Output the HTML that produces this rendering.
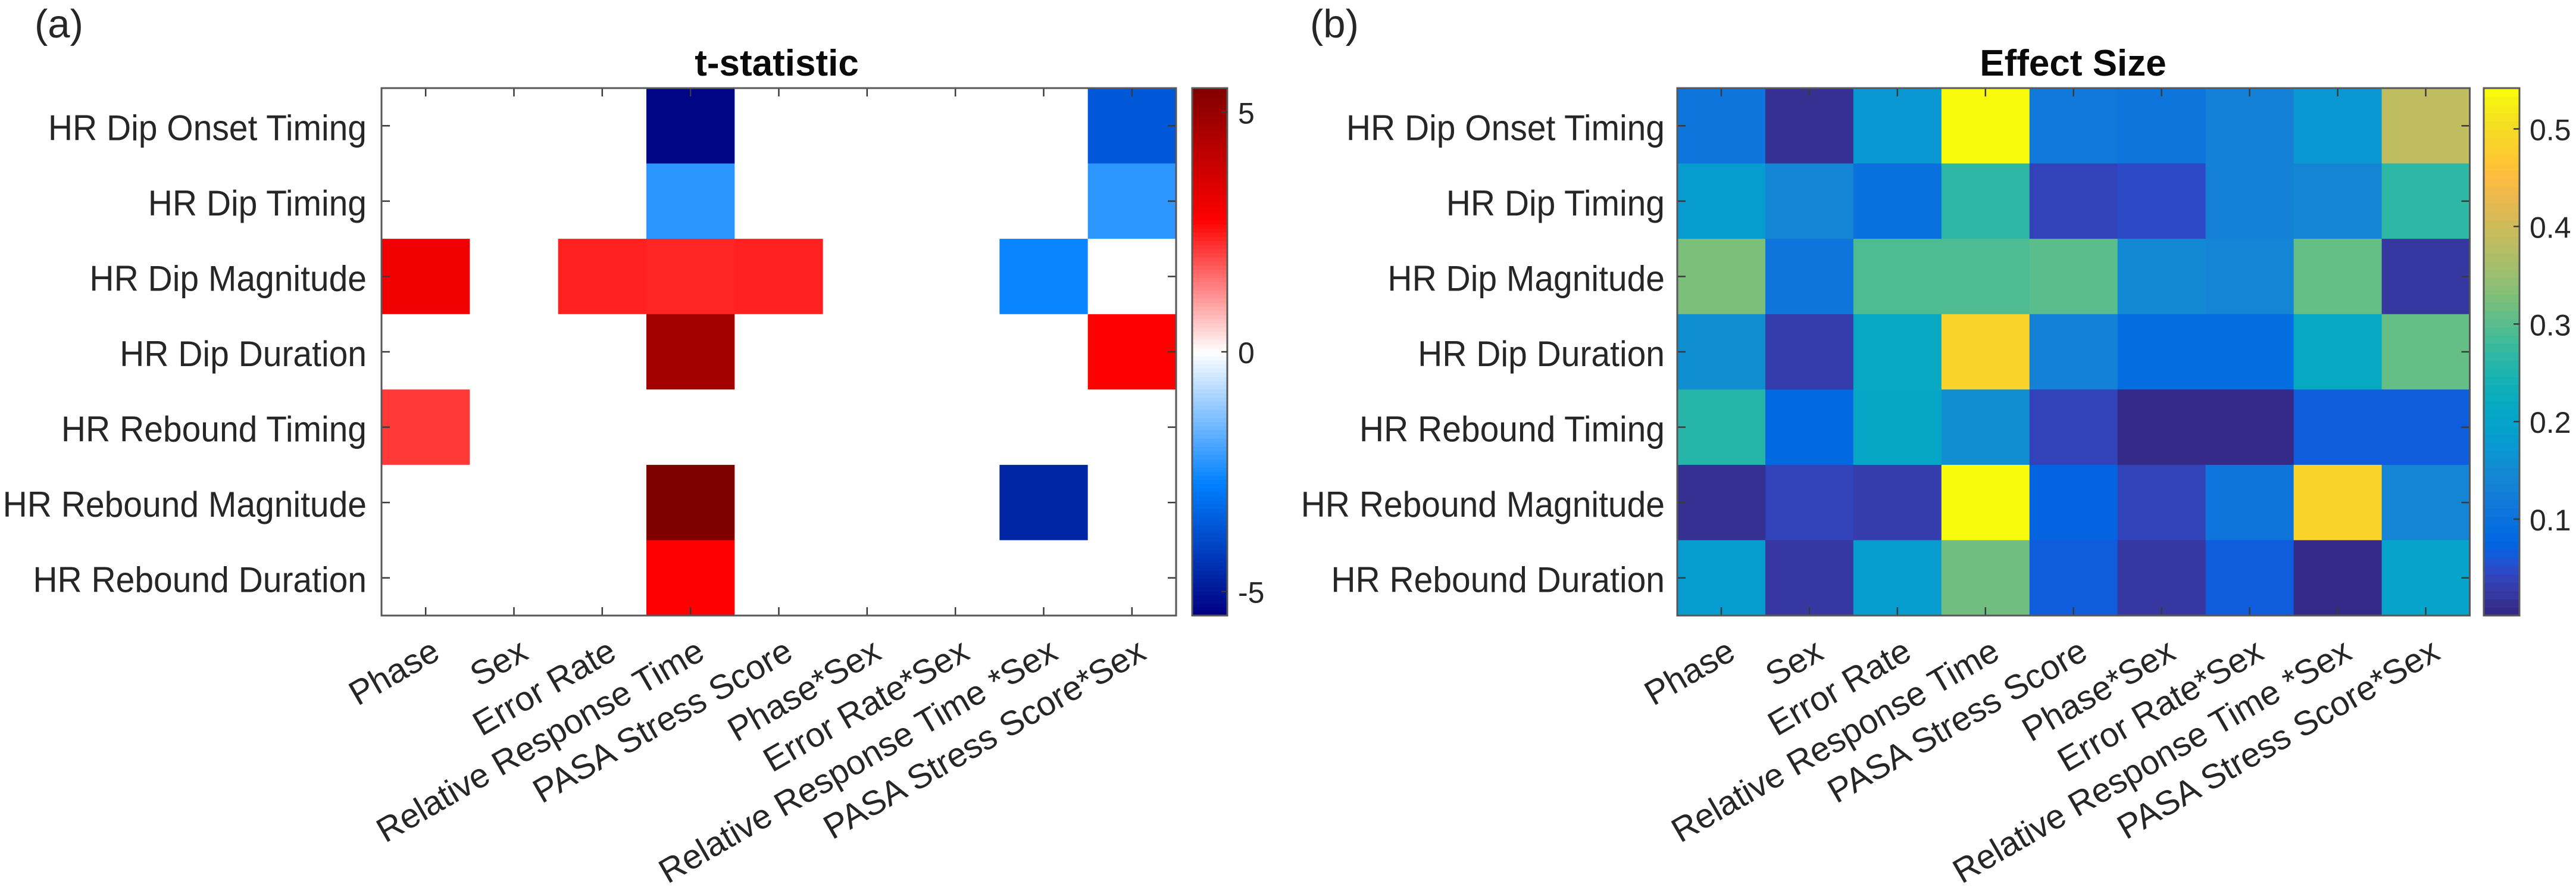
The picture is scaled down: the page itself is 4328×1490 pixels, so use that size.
<!DOCTYPE html>
<html lang="en">
<head>
<meta charset="utf-8">
<title>t-statistic and effect size heatmaps</title>
<style>
html,body{margin:0;padding:0;background:#fff;width:4328px;height:1490px;overflow:hidden}
svg{display:block}
text{font-family:"Liberation Sans",Arial,sans-serif;fill:#262626}
</style>
</head>
<body>
<svg id="fig" xmlns="http://www.w3.org/2000/svg" width="4328" height="1490" viewBox="0 0 4328 1490">
  <rect x="0" y="0" width="4328" height="1490" fill="#fff"/>
  <text x="58" y="63" font-size="67">(a)</text>
  <text x="2201" y="63" font-size="67">(b)</text>
  <text x="1305" y="127" font-size="62" font-weight="bold" text-anchor="middle" style="fill:#0a0a0a">t-statistic</text>
  <text x="3483" y="127" font-size="62" font-weight="bold" text-anchor="middle" style="fill:#0a0a0a">Effect Size</text>
</svg>
<script>
const predictors = ["Phase","Sex","Error Rate","Relative Response Time","PASA Stress Score","Phase*Sex","Error Rate*Sex","Relative Response Time *Sex","PASA Stress Score*Sex"];
const measures = ["HR Dip Onset Timing","HR Dip Timing","HR Dip Magnitude","HR Dip Duration","HR Rebound Timing","HR Rebound Magnitude","HR Rebound Duration"];

const tStatistic = [
  [0,0,0,-5.4,0,0,0,0,-3.6],
  [0,0,0,-2.28,0,0,0,0,-2.25],
  [3.07,0,2.4,2.35,2.4,0,0,-2.65,0],
  [0,0,0,4.7,0,0,0,0,2.8],
  [2.15,0,0,0,0,0,0,0,0],
  [0,0,0,5.5,0,0,0,-4.7,0],
  [0,0,0,2.75,0,0,0,0,0]
];
const effectSize = [
  [0.100,0.010,0.175,0.541,0.115,0.105,0.130,0.170,0.385],
  [0.180,0.140,0.097,0.265,0.035,0.043,0.130,0.135,0.265],
  [0.325,0.100,0.290,0.290,0.300,0.148,0.140,0.310,0.020],
  [0.155,0.027,0.215,0.490,0.130,0.087,0.087,0.212,0.310],
  [0.255,0.078,0.208,0.155,0.035,0.005,0.005,0.062,0.062],
  [0.010,0.036,0.027,0.541,0.070,0.036,0.105,0.490,0.135],
  [0.178,0.020,0.178,0.320,0.060,0.020,0.060,0.003,0.198]
];
const tColorbarTicks = [5,0,-5];
const tColorbarLabels = ["5","0","-5"];
const effectColorbarTicks = [0.5,0.4,0.3,0.2,0.1];
const effectColorbarLabels = ["0.5","0.4","0.3","0.2","0.1"];
const tLimits = [-5.5,5.5];
const effectLimits = [0.0012,0.5418];

const parula = [[.2081,.1663,.5292],[.2116,.1898,.5777],[.2123,.2138,.6270],[.2081,.2386,.6771],[.1959,.2645,.7279],[.1707,.2919,.7792],[.1253,.3242,.8303],[.0591,.3598,.8683],[.0117,.3875,.8820],[.0060,.4086,.8828],[.0165,.4266,.8786],[.0329,.4430,.8720],[.0498,.4586,.8641],[.0629,.4737,.8554],[.0723,.4887,.8467],[.0779,.5040,.8384],[.0793,.5200,.8312],[.0749,.5375,.8263],[.0641,.5570,.8240],[.0488,.5772,.8228],[.0343,.5966,.8199],[.0265,.6137,.8135],[.0239,.6287,.8038],[.0231,.6418,.7913],[.0228,.6535,.7768],[.0267,.6642,.7607],[.0384,.6743,.7436],[.0590,.6838,.7254],[.0843,.6928,.7062],[.1133,.7015,.6859],[.1453,.7098,.6646],[.1801,.7177,.6424],[.2178,.7250,.6193],[.2586,.7317,.5954],[.3022,.7376,.5712],[.3482,.7424,.5473],[.3953,.7459,.5244],[.4420,.7481,.5033],[.4871,.7491,.4840],[.5300,.7491,.4661],[.5709,.7485,.4494],[.6099,.7473,.4337],[.6473,.7456,.4188],[.6834,.7435,.4044],[.7184,.7411,.3905],[.7525,.7384,.3768],[.7858,.7356,.3633],[.8185,.7327,.3498],[.8507,.7299,.3360],[.8824,.7274,.3217],[.9139,.7258,.3063],[.9450,.7261,.2886],[.9739,.7314,.2666],[.9938,.7455,.2403],[.9990,.7653,.2164],[.9955,.7861,.1967],[.9880,.8066,.1794],[.9789,.8271,.1633],[.9697,.8481,.1475],[.9626,.8705,.1309],[.9589,.8949,.1132],[.9598,.9218,.0948],[.9661,.9514,.0755],[.9763,.9831,.0538]];
const divergingStops = [[0,0,128],[0,128,255],[255,255,255],[255,0,0],[128,0,0]];

function clamp01(t){return Math.max(0,Math.min(1,t));}
function parulaColor(t){
  const c = parula[Math.round(clamp01(t)*63)];
  return "rgb("+c.map(function(x){return Math.round(x*255);}).join(",")+")";
}
function divergingColor(t){
  const p = clamp01(t)*4, i = Math.min(3,Math.floor(p)), f = p-i;
  const a = divergingStops[i], b = divergingStops[i+1];
  return "rgb("+[0,1,2].map(function(k){return Math.round(a[k]+(b[k]-a[k])*f);}).join(",")+")";
}

const svg = document.getElementById("fig");
const NS = "http://www.w3.org/2000/svg";
const axisColor = "#585858";
const tickColor = "#3a3a3a";

function shape(tag,attrs){
  const el = document.createElementNS(NS,tag);
  Object.keys(attrs).forEach(function(k){el.setAttribute(k,attrs[k]);});
  svg.appendChild(el);
  return el;
}

function drawPanel(p){
  const nCols = predictors.length, nRows = measures.length;
  const xAt = function(c){return p.left+(p.right-p.left)*c/nCols;};
  const yAt = function(r){return p.top+(p.bottom-p.top)*r/nRows;};
  const norm = function(v){return (v-p.limits[0])/(p.limits[1]-p.limits[0]);};
  const barY = function(v){return p.bottom-(p.bottom-p.top)*norm(v);};

  p.values.forEach(function(row,r){
    row.forEach(function(v,c){
      const cell = shape("rect",{x:xAt(c),y:yAt(r),width:xAt(c+1)-xAt(c)+0.5,height:yAt(r+1)-yAt(r)+0.5,fill:p.color(norm(v))});
      
      
    });
  });

  predictors.forEach(function(name,c){
    const x = xAt(c+0.5);
    const bottomTick = shape("line",{x1:x,x2:x,y1:p.bottom,y2:p.bottom-14,stroke:tickColor,"stroke-width":2.5});
    
    
    const topTick = shape("line",{x1:x,x2:x,y1:p.top,y2:p.top+14,stroke:tickColor,"stroke-width":2.5});
    
    
    const lx = x+p.labelDx, ly = p.labelY;
    const label = shape("text",{x:lx,y:ly,"font-size":57.5,"text-anchor":"end",transform:"rotate(-30 "+lx+" "+ly+")"});
    label.textContent = name;
    
    
  });

  measures.forEach(function(name,r){
    const y = yAt(r+0.5);
    const leftTick = shape("line",{x1:p.left,x2:p.left+14,y1:y,y2:y,stroke:tickColor,"stroke-width":2.5});
    
    
    const rightTick = shape("line",{x1:p.right,x2:p.right-14,y1:y,y2:y,stroke:tickColor,"stroke-width":2.5});
    
    
    const lx = p.left-p.yLabelGap, ly = y+24;
    const label = shape("text",{x:0,y:0,"font-size":60,"text-anchor":"end",transform:"translate("+lx+" "+ly+") scale(0.95 1)"});
    label.textContent = name;
    
    
  });

  const box = shape("rect",{x:p.left,y:p.top,width:p.right-p.left,height:p.bottom-p.top,fill:"none",stroke:axisColor,"stroke-width":3});
  
  

  const levels = p.levels;
  for(let i=0;i<levels;i++){
    const t0 = i/levels, t1 = (i+1)/levels;
    const y1 = p.bottom-(p.bottom-p.top)*t1, y0 = p.bottom-(p.bottom-p.top)*t0;
    const band = shape("rect",{x:p.barLeft,y:y1,width:p.barRight-p.barLeft,height:y0-y1+0.6,fill:p.color((t0+t1)/2)});
    
    
  }
  const barFrame = shape("rect",{x:p.barLeft,y:p.top,width:p.barRight-p.barLeft,height:p.bottom-p.top,fill:"none",stroke:axisColor,"stroke-width":3});
  
  

  p.barTicks.forEach(function(v,i){
    const y = barY(v);
    const tick = shape("line",{x1:p.barRight,x2:p.barRight-10,y1:y,y2:y,stroke:tickColor,"stroke-width":2.5});
    
    
    const label = shape("text",{x:p.barRight+p.barLabelGap,y:y+19,"font-size":50});
    label.textContent = p.barLabels[i];
    
    
  });
}

drawPanel({left:641,right:1976,top:148,bottom:1034,barLeft:2003,barRight:2062,barLabelGap:18,yLabelGap:25,
  labelDx:27,labelY:1105,values:tStatistic,limits:tLimits,levels:128,color:divergingColor,
  barTicks:tColorbarTicks,barLabels:tColorbarLabels});
drawPanel({left:2818,right:4149.5,top:148,bottom:1034,barLeft:4173,barRight:4233,barLabelGap:17,yLabelGap:21,
  labelDx:27,labelY:1105,values:effectSize,limits:effectLimits,levels:64,color:parulaColor,
  barTicks:effectColorbarTicks,barLabels:effectColorbarLabels});
</script>
</body>
</html>
